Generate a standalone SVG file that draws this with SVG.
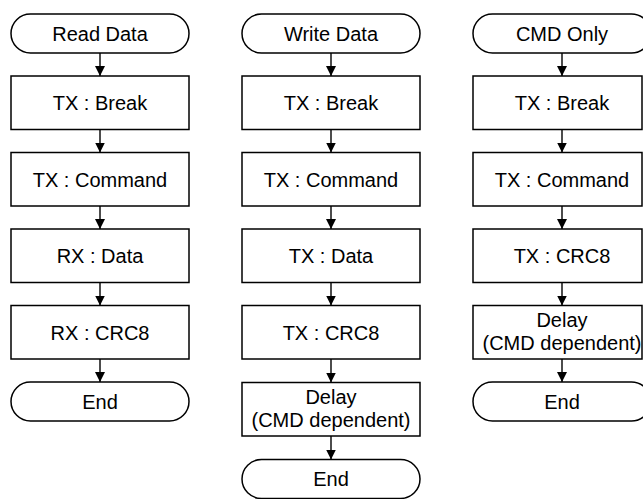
<svg xmlns="http://www.w3.org/2000/svg" width="643" height="499" viewBox="0 0 643 499">
  <defs>
    <marker id="arrow" markerUnits="userSpaceOnUse" markerWidth="10" markerHeight="10" refX="10" refY="5" orient="auto">
      <path d="M0,0 L10,5 L0,10 z" fill="#000"/>
    </marker>
    <style>
      .term, .box { fill: #fff; stroke: #000; stroke-width: 1.5; }
      .lbl { font-family: "Liberation Sans", Arial, sans-serif; font-size: 20px; fill: #000; text-anchor: middle; }
      .conn line { stroke: #000; stroke-width: 1.4; marker-end: url(#arrow); }
    </style>
  </defs>

  <!-- Column 1: Read Data -->
  <g id="read-start"><rect class="term" x="11" y="14" width="178" height="39" rx="19.5"/><text class="lbl" x="100" y="40.5">Read Data</text></g>
  <g id="read-break"><rect class="box" x="11" y="76" width="178" height="53.5"/><text class="lbl" x="100" y="110">TX : Break</text></g>
  <g id="read-cmd"><rect class="box" x="11" y="152.5" width="178" height="53.5"/><text class="lbl" x="100" y="186.5">TX : Command</text></g>
  <g id="read-data"><rect class="box" x="11" y="229" width="178" height="53.5"/><text class="lbl" x="100" y="263">RX : Data</text></g>
  <g id="read-crc"><rect class="box" x="11" y="305.5" width="178" height="53.5"/><text class="lbl" x="100" y="339.5">RX : CRC8</text></g>
  <g id="read-end"><rect class="term" x="11" y="382" width="178" height="39" rx="19.5"/><text class="lbl" x="100" y="408.5">End</text></g>

  <!-- Column 2: Write Data -->
  <g id="write-start"><rect class="term" x="242" y="14" width="178" height="39" rx="19.5"/><text class="lbl" x="331" y="40.5">Write Data</text></g>
  <g id="write-break"><rect class="box" x="242" y="76" width="178" height="53.5"/><text class="lbl" x="331" y="110">TX : Break</text></g>
  <g id="write-cmd"><rect class="box" x="242" y="152.5" width="178" height="53.5"/><text class="lbl" x="331" y="186.5">TX : Command</text></g>
  <g id="write-data"><rect class="box" x="242" y="229" width="178" height="53.5"/><text class="lbl" x="331" y="263">TX : Data</text></g>
  <g id="write-crc"><rect class="box" x="242" y="305.5" width="178" height="53.5"/><text class="lbl" x="331" y="339.5">TX : CRC8</text></g>
  <g id="write-delay"><rect class="box" x="242" y="382.5" width="178" height="53.5"/><text class="lbl" x="331" y="403.5">Delay</text><text class="lbl" x="331" y="426.5">(CMD dependent)</text></g>
  <g id="write-end"><rect class="term" x="242" y="459.5" width="178" height="39" rx="19.5"/><text class="lbl" x="331" y="486">End</text></g>

  <!-- Column 3: CMD Only -->
  <g id="cmd-start"><rect class="term" x="473" y="14" width="178" height="39" rx="19.5"/><text class="lbl" x="562" y="40.5">CMD Only</text></g>
  <g id="cmd-break"><rect class="box" x="473" y="76" width="169" height="53.5"/><text class="lbl" x="562" y="110">TX : Break</text></g>
  <g id="cmd-cmd"><rect class="box" x="473" y="152.5" width="169" height="53.5"/><text class="lbl" x="562" y="186.5">TX : Command</text></g>
  <g id="cmd-crc"><rect class="box" x="473" y="229" width="169" height="53.5"/><text class="lbl" x="562" y="263">TX : CRC8</text></g>
  <g id="cmd-delay"><rect class="box" x="473" y="305.5" width="169" height="53.5"/><text class="lbl" x="562" y="326.5">Delay</text><text class="lbl" x="562" y="349.5">(CMD dependent)</text></g>
  <g id="cmd-end"><rect class="term" x="473" y="382" width="178" height="39" rx="19.5"/><text class="lbl" x="562" y="408.5">End</text></g>

  <!-- Connectors -->
  <g id="connectors" class="conn">
    <line x1="100" y1="53" x2="100" y2="76"/>
    <line x1="100" y1="129.5" x2="100" y2="152.5"/>
    <line x1="100" y1="206" x2="100" y2="229"/>
    <line x1="100" y1="282.5" x2="100" y2="305.5"/>
    <line x1="100" y1="359" x2="100" y2="382"/>

    <line x1="331" y1="53" x2="331" y2="76"/>
    <line x1="331" y1="129.5" x2="331" y2="152.5"/>
    <line x1="331" y1="206" x2="331" y2="229"/>
    <line x1="331" y1="282.5" x2="331" y2="305.5"/>
    <line x1="331" y1="359" x2="331" y2="382.5"/>
    <line x1="331" y1="436" x2="331" y2="459.5"/>

    <line x1="562" y1="53" x2="562" y2="76"/>
    <line x1="562" y1="129.5" x2="562" y2="152.5"/>
    <line x1="562" y1="206" x2="562" y2="229"/>
    <line x1="562" y1="282.5" x2="562" y2="305.5"/>
    <line x1="562" y1="359" x2="562" y2="382"/>
  </g>
</svg>
